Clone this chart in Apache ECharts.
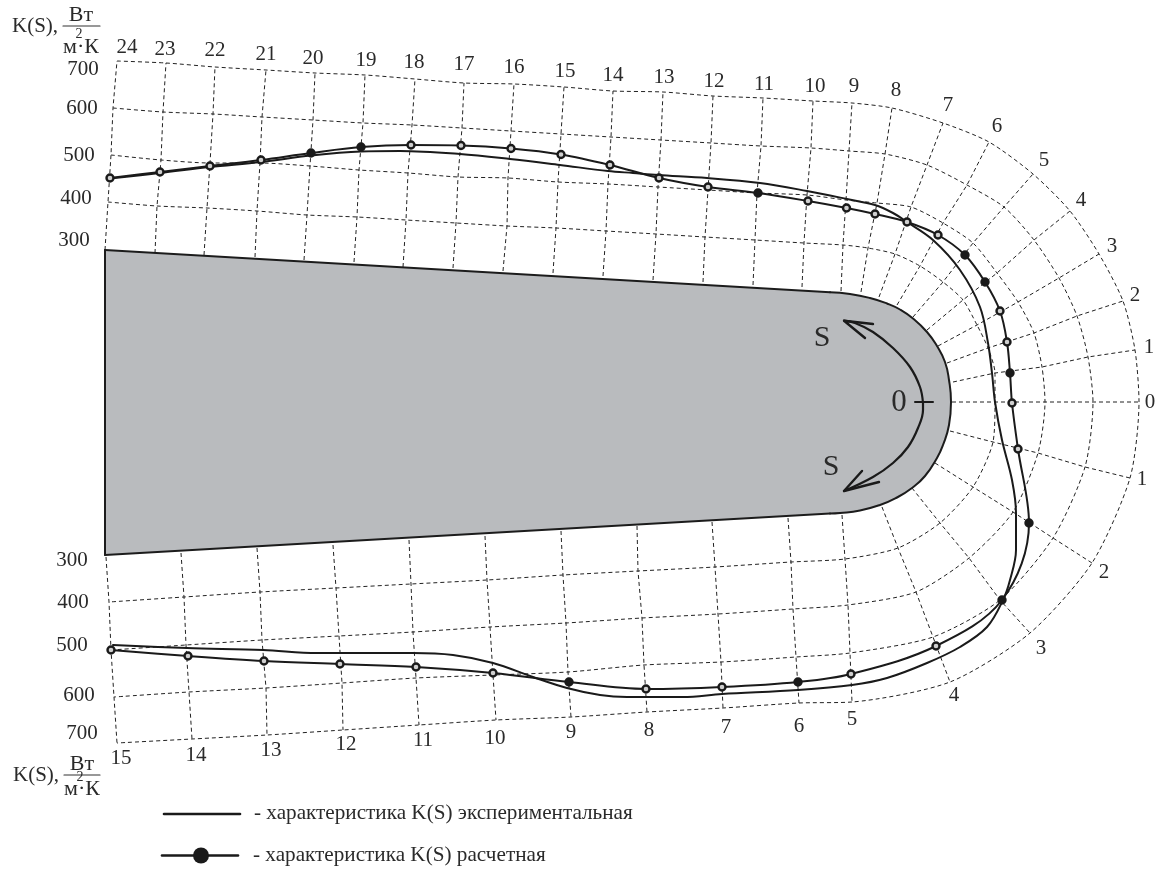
<!DOCTYPE html>
<html><head><meta charset="utf-8">
<style>html,body{margin:0;padding:0;background:#fff}#c{width:1160px;height:870px}</style>
<script src="https://cdn.jsdelivr.net/npm/echarts@6/dist/echarts.min.js"></script>
</head><body><div id="c"></div>
<script>
// Station names around the profile (upper side 24..0, then lower side 1..15)
const stationNames = ['24','23','22','21','20','19','18','17','16','15','14','13','12','11','10','9','8','7','6','5','4','3','2','1','0',
  '1','2','3','4','5','6','7','8','9','10','11','12','13','14','15'];
// K(S) grid, in the diagram plane [x, y], one list per K level
const level700 = [[117,61],[166,63],[215,67],[266,70],[315,73],[365,75],[415,79],[464,83],[514,84],[564,87],[613,91],[663,92],[713,96],[763,98],[813,101],[852,103],[892,108],[943,123],[989,142],[1033,174],[1070,211],[1099,254],[1123,301],[1135,350],[1139,402],
  [1130,478],[1092,563],[1030,633],[950,682],[852,702],[799,703],[723,708],[647,712],[571,717],[496,720],[419,725],[343,730],[267,735],[192,739],[117,743]];
const level600 = [[113,108],[163,112],[213,114],[262,117],[313,120],[363,123],[412,125],[462,128],[511,131],[561,134],[611,137],[661,140],[711,143],[761,146],[811,148],[849,151],[885,154],[927,165],[967,185],[1004,207],[1034,240],[1059,278],[1077,316],[1088,357],[1093,402],
  [1085,467],[1053,538],[1000,600],[933,637],[850,653],[796,657],[721,662],[644,665],[568,672],[493,675],[416,678],[342,683],[266,688],[189,692],[114,697]];
const level500 = [[111,155],[161,160],[210,163],[260,163],[310,166],[359,170],[408,173],[458,177],[508,178],[558,182],[608,184],[658,187],[708,190],[757,193],[807,195],[846,200],[877,203],[911,207],[943,223],[973,243],[997,273],[1018,302],[1034,333],[1042,367],[1045,402],
  [1038,453],[1013,512],[969,558],[916,592],[848,605],[793,609],[718,614],[642,618],[566,623],[490,627],[413,632],[339,636],[262,640],[186,645],[111,650]];
const level400 = [[108,202],[157,206],[207,208],[257,211],[307,215],[357,217],[406,220],[456,223],[507,226],[556,228],[606,231],[656,234],[705,237],[755,240],[804,243],[843,245],[868,248],[895,254],[920,266],[943,282],[963,300],[977,325],[988,348],[995,373],[995,402],
  [993,442],[973,487],[940,523],[898,548],[845,559],[791,562],[715,567],[638,571],[563,575],[487,580],[411,584],[336,588],[260,592],[184,597],[109,602]];
const level300 = [[105,250],[155,253],[204,255],[255,257],[304,260],[354,262],[403,267],[453,268],[503,271],[553,273],[603,276],[653,280],[703,282],[753,285],[802,287],[841,291],[861,292],[879,297],[897,305],[913,317],[927,330],[938,346],[947,363],[953,382],[952,402],
  [950,431],[935,463],[912,488],[882,507],[842,515],[788,518],[712,522],[637,526],[561,531],[485,536],[409,540],[333,545],[257,548],[181,553],[106,557]];
const levelLines = [level700, level600, level500, level400];

// Calculated characteristic K(S): one reading per station
const calculated = [[110,178],[160,172],[210,166],[261,160],[311,153],[361,147],[411,145],[461,145.5],[511,148.5],[561,154.5],[610,165],[659,178],[708,187],[758,193],[808,201],[846.5,208],[875,214],[907,222],[938,235],[965,255],[985,282],[1000,311],[1007,342],[1010,373],[1012,403],
  [1018,449],[1029,523],[1002,600],[936,646],[851,674],[798,682],[722,687],[646,689],[569,682],[493,673],[416,667],[340,664],[264,661],[188,656],[111,650]];
const solidMarkers = [4, 5, 13, 19, 20, 23, 26, 27, 30, 33];
// Experimental characteristic K(S): continuous curve
const experimental = [[110,178.5],[160,173],[210,167],[261,162],[311,155.5],[361,151.5],[400,151],[460,154],[510,159],[560,165],[608,171],[633,173],[658,175],[707,178],[760,183],[807,191],[847,199],[875,205],[893,213],[907,222],[933,240],[960,270],[980,307],[988,343],[992,373],[995,402],[1002,440],[1012,480],[1016,513],[1016,550],[1010,580],[1003,600],[987,627],[960,647],[927,663],[887,678],[852,685],[798,690],[722,694],[683,697],[627,697],[600,695],[567,688],[533,677],[493,663],[453,655],[413,653],[317,653],[263,650],[187,648],[113,645]];

// Blade profile
const profile = [[105,250],[830,292.3],[850,294],[870,298],[887,303.5],[900,309.5],[913,318.5],[927,332],[937,346],[945,362],[949,380],[951,402],[949,425],[943,445],[937,458],[925,476],[912,488],[896,498],[880,505],[860,510.5],[840,513],[830,513.5],[105,555]];
const nose = profile.slice(1, 22);
const edgeTop = [profile[0], profile[1]];
const edgeBottom = [profile[21], profile[22]];
const edgeLeft = [profile[22], profile[0]];

// Texts
const stationLabelPos = [[127,47],[165,49],[215,50],[266,54],[313,58],[366,60],[414,62],[464,64],[514,67],[565,71],[613,75],[664,77],[714,81],[764,84],[815,86],[854,86],[896,90],[948,105],[997,126],[1044,160],[1081,200],[1112,246],[1135,295],[1149,347],[1150,402],
  [1142,479],[1104,572],[1041,648],[954,695],[852,719],[799,726],[726,727],[649,730],[571,732],[495,738],[423,740],[346,744],[271,750],[196,755],[121,758]];
const levelTicks = [['700',83,69],['600',82,108],['500',79,155],['400',76,198],['300',74,240],['300',72,560],['400',73,602],['500',72,645],['600',79,695],['700',82,733]];
const arrowUp = [[844,320.7],[855,323],[873,332],[893,348],[910,367],[920,387],[923,403]];
const arrowUpBarbs = [[[873,324],[844,320.7],[865,338]]];
const arrowDown = [[923,403],[923,410],[918,428],[908,447],[893,463],[873,477],[844,491]];
const arrowDownBarbs = [[[879,482],[844,491],[862,471]]];
const originTick = [[915,402],[933,402]];
const legendExp = [[164,814],[240,814]];
const legendCalc = [[162,855.5],[238,855.5]];
const legendDot = [[201,855.5]];
const unitBars = [[[63,26],[100,26]],[[64,775],[100,775]]];

const FONT = '"Liberation Serif","Times New Roman",serif';
const INK = '#2a2a2a';
const DASH = [4,3];
function poly(data, width, dash, smooth, color, z) {
  return {type:'line', data, showSymbol:false, symbol:'none', smooth:smooth||false, silent:true, z:z||2,
    lineStyle:{color:color||INK, width, opacity:1, type:dash||'solid', cap:dash?'butt':'round', join:dash?'miter':'round'}};
}
function texts(rows, size, pos) {
  return {type:'scatter', symbolSize:0, silent:true, z:8,
    data: rows.map(r => ({value:[r[1],r[2]], name:r[0]})),
    itemStyle:{opacity:1},
    label:{show:true, position:pos||'inside', distance:0, opacity:1, formatter:p=>p.name, fontFamily:FONT, fontSize:size, color:INK}};
}

const series = [];
// filled profile
series.push({type:'custom', silent:true, z:1, coordinateSystem:'cartesian2d', data:[0],
  renderItem:(params, api)=>({type:'polygon',
    shape:{points:profile.map(p=>api.coord(p))},
    style:{fill:'#b9bbbe'}})});
series.push(poly(nose, 2, null, 0.5, '#1c1c1c', 3));
[edgeTop, edgeBottom, edgeLeft].forEach(e=>series.push(poly(e, 2, null, false, '#1c1c1c', 3)));
// K level lines
levelLines.forEach(l => series.push(poly(l, 1, DASH, 0.25, '#222', 2)));
// station rays
stationNames.forEach((n,i) => {
  series.push(poly([level300[i],level400[i],level500[i],level600[i],level700[i]], 1, DASH, false, '#222', 2));
});
// curves
series.push(poly(experimental, 2, null, 0.35, '#1a1a1a', 5));
series.push(poly(calculated, 2, null, 0.35, '#1a1a1a', 5));
series.push({type:'scatter', silent:true, z:6, symbol:'circle', symbolSize:7,
  data: calculated.map((p,i)=>({value:p, itemStyle: solidMarkers.includes(i)?{color:'#1a1a1a',opacity:1}:{color:'#cfcfcf',opacity:1}})),
  itemStyle:{borderColor:'#1a1a1a', borderWidth:2.4, opacity:1}});
// arrows
series.push(poly(arrowUp, 2.2, null, 0.4, '#1a1a1a', 5));
series.push(poly(arrowDown, 2.2, null, 0.4, '#1a1a1a', 5));
arrowUpBarbs.concat(arrowDownBarbs).forEach(b=>series.push(poly(b, 2.4, null, false, '#1a1a1a', 5)));
series.push(poly(originTick, 2, null, false, '#1a1a1a', 5));
// legend keys
series.push(poly(legendExp, 2.6, null, false, '#1a1a1a', 5));
series.push(poly(legendCalc, 2.6, null, false, '#1a1a1a', 5));
series.push({type:'scatter', data:legendDot, symbolSize:16, silent:true, z:6, itemStyle:{color:'#1a1a1a',opacity:1}});
unitBars.forEach(b=>series.push(poly(b, 1.2, null, false, '#333', 5)));
// texts
series.push(texts(stationNames.map((n,i)=>[n,stationLabelPos[i][0],stationLabelPos[i][1]]), 21));
series.push(texts(levelTicks, 21));
series.push(texts([['S',822,338],['S',831,467]], 30));
series.push(texts([['0',899,403]], 31));
series.push(texts([['K(S),',12,26],['K(S),',13,775]], 21, 'right'));
series.push(texts([['Вт',81,15],['м·К',81,47],['Вт',82,764],['м·К',82,789]], 22));
series.push(texts([['2',79,34],['2',80,777]], 14));
series.push(texts([['- характеристика K(S) экспериментальная',254,813],['- характеристика K(S) расчетная',253,855]], 21.2, 'right'));

const chart = echarts.init(document.getElementById('c'), null, {renderer:'canvas'});
chart.setOption({
  animation:false, backgroundColor:'#fff',
  grid:{left:0,right:0,top:0,bottom:0,containLabel:false},
  xAxis:{type:'value',min:0,max:1160,show:false},
  yAxis:{type:'value',min:0,max:870,inverse:true,show:false},
  tooltip:{show:false},
  series
});
</script></body></html>
